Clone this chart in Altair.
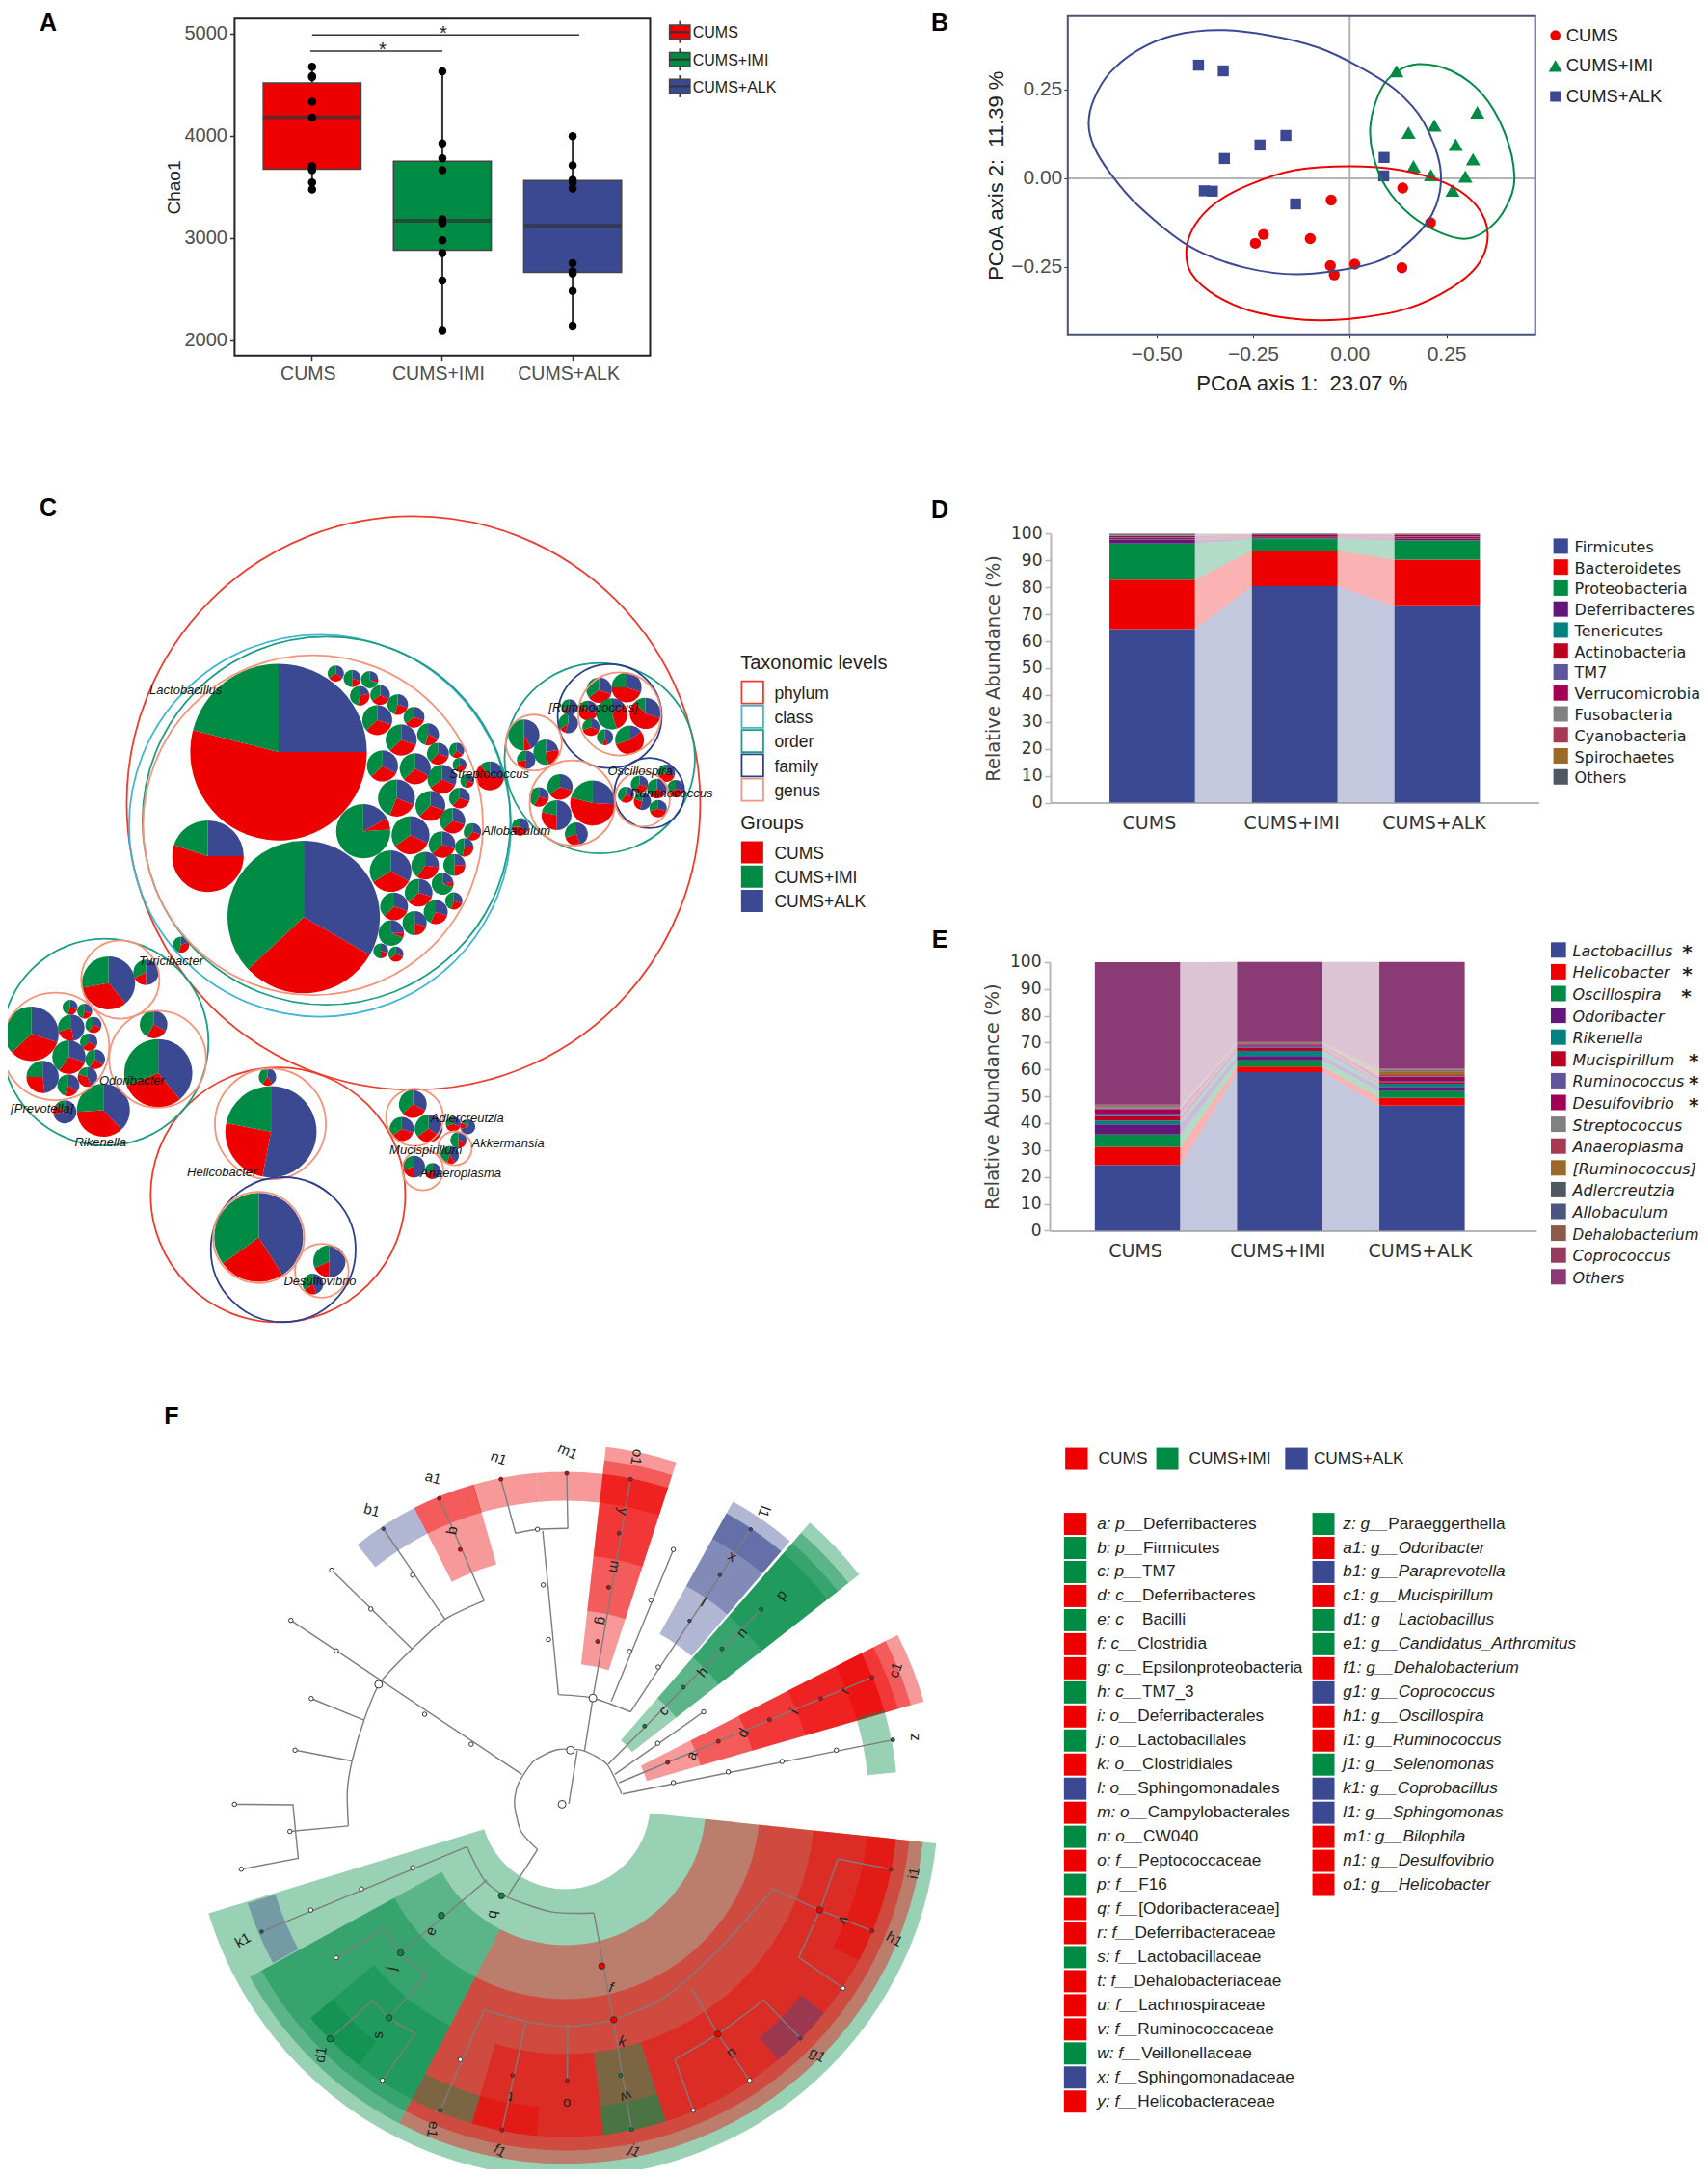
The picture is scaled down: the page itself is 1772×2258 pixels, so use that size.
import math
import altair as alt
import pandas as pd

W, H = 1756, 2242
SANS = "Liberation Sans"
DJ = "DejaVu Sans"
RED, GREEN, BLUE = "#EE0000", "#008B45", "#3B4992"
GROUPS = ["CUMS", "CUMS+IMI", "CUMS+ALK"]
GCOL = [RED, GREEN, BLUE]

# ---------------- panel A values
A_Q1 = [3673, 2881, 2664]
A_MED = [4182, 3167, 3119]
A_Q3 = [4519, 3752, 3563]
A_LOW = [3475, 2097, 2138]
A_HIGH = [4676, 4632, 3997]
A_POINTS = {
    "CUMS": [4676, 4585, 4575, 4333, 4179, 3704, 3679, 3664, 3544, 3475],
    "CUMS+IMI": [4632, 3925, 3780, 3664, 3182, 3160, 3145, 2978, 2852, 2582, 2097],
    "CUMS+ALK": [3997, 3711, 3569, 3544, 3484, 2752, 2673, 2651, 2481, 2138],
}
# ---------------- panel B values
B_CUMS_X = [0.137, -0.048, 0.209, -0.223, -0.244, -0.102, -0.050, 0.013, -0.040, 0.135]
B_CUMS_Y = [-0.027, -0.061, -0.125, -0.158, -0.183, -0.170, -0.246, -0.242, -0.272, -0.252]
B_IMI_X = [0.121, 0.330, 0.219, 0.152, 0.274, 0.319, 0.165, 0.210, 0.299, 0.266]
B_IMI_Y = [0.302, 0.186, 0.149, 0.129, 0.095, 0.054, 0.034, 0.009, 0.005, -0.034]
B_ALK_X = [-0.391, -0.327, -0.165, -0.232, -0.324, 0.089, 0.088, -0.376, -0.355, -0.140]
B_ALK_Y = [0.319, 0.303, 0.121, 0.094, 0.056, 0.059, 0.007, -0.035, -0.036, -0.072]
B_ELL_ALK = [(-0.675, 0.154), (-0.662, 0.222), (-0.619, 0.299), (-0.547, 0.362), (-0.456, 0.403), (-0.338, 0.418),
             (-0.208, 0.403), (-0.077, 0.367), (0.027, 0.313), (0.119, 0.249), (0.191, 0.159),
             (0.234, 0.032), (0.223, -0.077), (0.165, -0.168), (0.067, -0.236), (-0.116, -0.270),
             (-0.273, -0.251), (-0.417, -0.190), (-0.547, -0.077), (-0.619, 0.014), (-0.662, 0.091)]
B_ELL_CUMS = [(0.001, 0.034), (0.132, 0.023), (0.249, -0.014), (0.328, -0.077), (0.357, -0.159),
              (0.328, -0.249), (0.236, -0.326), (0.119, -0.376), (-0.071, -0.400), (-0.234, -0.380),
              (-0.345, -0.331), (-0.410, -0.267), (-0.422, -0.199), (-0.400, -0.131), (-0.345, -0.068),
              (-0.260, -0.018), (-0.142, 0.023)]
B_ELL_IMI = [(0.178, 0.322), (0.263, 0.303), (0.341, 0.240), (0.400, 0.131), (0.426, 0.005),
             (0.406, -0.077), (0.361, -0.140), (0.302, -0.170), (0.236, -0.154), (0.158, -0.104),
             (0.093, -0.023), (0.060, 0.068), (0.054, 0.154), (0.080, 0.249), (0.119, 0.299)]

# ---------------- panel C values: centre x, centre y, radius, then blue / red / green shares
C_PIES = [
    (477, 488, 153, .25, .54, .21), (520, 786, 132, .333, .297, .37), (356, 676, 62, .25, .55, .20),
    (622, 631, 47, .17, .07, .76), (575, 346, 14, .35, .30, .35), (603, 355, 15, .30, .20, .50),
    (633, 357, 15, .25, .06, .69), (616, 386, 17, .22, .30, .48), (651, 385, 17, .32, .33, .35),
    (681, 402, 18, .30, .25, .45), (709, 425, 18, .30, .35, .35), (646, 430, 26, .30, .33, .37),
    (687, 466, 27, .30, .33, .37), (733, 456, 19, .32, .22, .46), (750, 491, 19, .30, .32, .38),
    (782, 485, 13, .35, .25, .40), (787, 511, 12, .30, .30, .40), (655, 513, 27, .33, .30, .37),
    (711, 518, 27, .33, .30, .37), (757, 537, 25, .32, .33, .35), (800, 540, 12, .30, .25, .45),
    (787, 571, 18, .30, .32, .38), (679, 571, 32, .31, .25, .44), (737, 585, 26, .30, .33, .37),
    (775, 612, 22, .30, .33, .37), (703, 638, 33, .32, .33, .35), (809, 632, 15, .30, .30, .40),
    (757, 655, 23, .30, .33, .37), (795, 660, 16, .25, .28, .47), (669, 703, 36, .33, .33, .34),
    (728, 693, 24, .27, .33, .40), (778, 692, 19, .25, .25, .50), (717, 742, 24, .30, .33, .37),
    (758, 726, 19, .22, .08, .70), (777, 757, 15, .30, .25, .45), (675, 767, 24, .30, .33, .37),
    (746, 777, 21, .30, .27, .43), (710, 797, 21, .30, .20, .50), (670, 815, 22, .25, .06, .69),
    (652, 847, 13, .30, .20, .50), (678, 853, 13, .30, .35, .35),
    (839, 531, 25, .28, .60, .12), (891, 623, 15, .35, .40, .25), (310, 836, 14, .20, .35, .45),
    (186, 905, 46, .39, .33, .28), (250, 886, 22, .50, .18, .32), (54, 997, 47, .30, .33, .37),
    (120, 949, 13, .30, .25, .45), (145, 956, 13, .30, .25, .45), (122, 986, 23, .47, .23, .30),
    (160, 981, 14, .30, .30, .40), (152, 1012, 15, .33, .30, .37), (118, 1039, 29, .30, .30, .40),
    (163, 1043, 17, .35, .25, .40), (73, 1075, 28, .48, .27, .25), (117, 1090, 19, .35, .20, .45),
    (150, 1075, 17, .45, .35, .20), (263, 980, 24, .33, .25, .42), (271, 1068, 59, .39, .30, .31),
    (177, 1135, 46, .38, .36, .26), (111, 1138, 20, .72, .13, .15),
    (1026, 376, 22, .30, .35, .35), (1073, 371, 26, .30, .45, .25), (1105, 418, 27, .30, .58, .12),
    (1048, 419, 27, .15, .30, .55), (1007, 413, 17, .30, .55, .15), (1012, 443, 15, .30, .40, .30),
    (1036, 461, 14, .45, .10, .45), (1078, 466, 25, .15, .55, .30), (975, 407, 14, .60, .10, .30),
    (973, 436, 17, .55, .10, .35), (897, 457, 27, .42, .08, .50), (935, 488, 22, .22, .25, .53),
    (901, 502, 16, .50, .22, .28), (959, 551, 22, .30, .35, .35), (1015, 580, 39, .26, .53, .21),
    (953, 602, 26, .50, .28, .22), (923, 569, 17, .28, .30, .42), (987, 636, 20, .45, .25, .30),
    (1141, 526, 15, .30, .40, .30), (1095, 546, 15, .30, .30, .40), (1125, 554, 17, .33, .30, .37),
    (1157, 554, 15, .30, .35, .35), (1072, 565, 14, .30, .30, .40), (1100, 577, 15, .55, .25, .20),
    (1127, 590, 15, .30, .40, .30),
    (464, 1174, 79, .53, .25, .22), (458, 1075, 15, .40, .20, .40), (443, 1365, 77, .41, .24, .35),
    (564, 1408, 28, .50, .18, .32), (536, 1449, 18, .45, .20, .35),
    (707, 1124, 24, .33, .30, .37), (688, 1169, 21, .30, .35, .35), (734, 1168, 24, .35, .30, .35),
    (785, 1189, 14, .30, .20, .50), (770, 1216, 16, .40, .15, .45), (709, 1237, 19, .50, .20, .30),
    (741, 1245, 14, .50, .20, .30), (776, 1160, 13, .30, .40, .30), (801, 1165, 13, .70, .15, .15),
]
LEVELS = ["phylum", "class", "order", "family", "genus"]
LEVEL_COL = ["#EF3B2C", "#41B6D0", "#1B9E85", "#2B3F8F", "#F4947A"]
C_RINGS = [
    ("phylum", 708, 580, 491), ("phylum", 476, 1288, 218),
    ("class", 548, 621, 327), ("order", 559, 612, 315), ("genus", 536, 620, 291),
    ("order", 1027, 499, 163), ("family", 1044, 423, 89), ("genus", 1061, 419, 71),
    ("genus", 914, 471, 48), ("genus", 980, 580, 73), ("family", 1112, 562, 60), ("genus", 1100, 573, 47),
    ("order", 180, 1012, 177), ("genus", 206, 899, 67), ("genus", 95, 1020, 92), ("genus", 270, 1043, 83),
    ("genus", 463, 1160, 95), ("family", 485, 1387, 124), ("genus", 443, 1365, 78), ("genus", 551, 1425, 46),
    ("genus", 710, 1148, 49), ("genus", 779, 1204, 29), ("genus", 724, 1243, 35),
]
C_LABELS = [("Lactobacillus", 318, 376), ("[Ruminococcus]", 1016, 408), ("Streptococcus", 838, 528),
            ("Oscillospira", 1096, 522), ("Ruminococcus", 1150, 563), ("Allobaculum", 884, 631),
            ("Turicibacter", 293, 866), ("Odoribacter", 226, 1082), ("[Prevotella]", 72, 1133),
            ("Rikenella", 172, 1194), ("Helicobacter", 380, 1247), ("Desulfovibrio", 548, 1444),
            ("Adlercreutzia", 800, 1149), ("Akkermansia", 870, 1195), ("Mucispirillum", 729, 1207),
            ("Anaeroplasma", 789, 1250)]

# ---------------- panels D and E values (percent, bottom to top)
D_SERIES = ["Firmicutes", "Bacteroidetes", "Proteobacteria", "Deferribacteres", "Tenericutes", "Actinobacteria",
            "TM7", "Verrucomicrobia", "Fusobacteria", "Cyanobacteria", "Spirochaetes", "Others"]
D_COL = ["#3B4992", "#EE0000", "#008B45", "#631879", "#008280", "#BB0021", "#5F559B", "#A20056", "#808180",
         "#A73A52", "#9B6A2B", "#4F5761"]
D_CUMS = [64.5, 18.4, 13.4, 1.4, .3, .5, .2, .5, .1, .1, .1, .5]
D_IMI = [80.4, 13.2, 4.3, .2, .3, .6, .1, .3, .05, .05, .05, .45]
D_ALK = [73.0, 17.3, 7.2, .5, .2, .7, .2, .4, .05, .05, .05, .35]
E_SERIES = ["Lactobacillus", "Helicobacter", "Oscillospira", "Odoribacter", "Rikenella", "Mucispirillum",
            "Ruminococcus", "Desulfovibrio", "Streptococcus", "Anaeroplasma", "[Ruminococcus]", "Adlercreutzia",
            "Allobaculum", "Dehalobacterium", "Coprococcus", "Others"]
E_COL = ["#3B4992", "#EE0000", "#008B45", "#631879", "#008280", "#BB0021", "#5F559B", "#A20056", "#808180",
         "#A73A52", "#9B6A2B", "#4F5761", "#4C5480", "#8A5A4C", "#983A5C", "#8A3A75"]
E_STAR = {"Lactobacillus": 1527, "Helicobacter": 1527, "Oscillospira": 1525, "Mucispirillum": 1540,
          "Ruminococcus": 1540, "Desulfovibrio": 1540}
E_CUMS = [24.5, 6.6, 4.7, 3.7, 1.5, 1.6, 1.0, 1.7, .3, .2, .3, .2, .2, .3, .1, 53.0]
E_IMI = [59.0, 2.1, 2.3, 1.6, 1.9, 1.2, .8, .4, .1, .1, .4, .1, .05, .1, .05, 29.8]
E_ALK = [46.5, 2.9, 2.5, 1.6, 1.2, .6, .5, 1.4, .4, .3, 1.4, .3, .2, .2, .3, 39.7]

# ---------------- panel F values: clade, group, inner and outer ring, start and end bearing in degrees
F_WEDGES = [
    ("b", "G", 88, 387, 96, 253), ("f", "R", 146, 373, 96, 207.5), ("k", "R", 202, 359, 96, 207.5),
    ("v", "R", 259, 345, 96, 128.9), ("u", "R", 259, 345, 128.9, 162.4), ("w", "G", 259, 345, 162.4, 173.4),
    ("o", "R", 259, 345, 173.4, 184.9), ("t", "R", 259, 345, 184.9, 196.3), ("e1", "G", 315, 345, 196.3, 207.5),
    ("f1", "R", 315, 345, 184.9, 196.3), ("j1", "G", 315, 345, 162.4, 173.4), ("g1", "B", 315, 345, 128.9, 140.2),
    ("h1", "R", 315, 345, 107, 118), ("i1", "R", 315, 345, 96, 107), ("e", "G", 146, 373, 207.5, 241.3),
    ("j", "G", 202, 359, 207.5, 241.3), ("s", "G", 259, 345, 207.5, 230), ("d1", "G", 315, 345, 218.5, 230),
    ("k1", "B", 315, 345, 241.5, 252.7),
    ("a", "R", 88, 387, 63, 74), ("d", "R", 146, 373, 63, 74), ("i", "R", 202, 359, 63, 74),
    ("r", "R", 259, 345, 63, 74), ("c1", "R", 315, 345, 63, 74), ("z", "G", 315, 345, 73.5, 84.5),
    ("c", "G", 88, 387, 41, 52), ("h", "G", 146, 373, 41, 52), ("n", "G", 202, 359, 41, 52), ("p", "G", 259, 345, 41, 52),
    ("l", "B", 202, 359, 29, 40.5), ("x", "B", 259, 345, 29, 40.5), ("l1", "B", 315, 345, 29, 40.5),
    ("g", "R", 146, 373, 6.5, 18), ("m", "R", 202, 359, 6.5, 18), ("y", "R", 259, 345, 6.5, 18), ("o1", "R", 315, 345, 6.5, 18),
    ("m1", "R", 315, 345, 355, 366.5), ("n1", "R", 315, 345, 343.9, 355), ("q", "R", 259, 345, 333, 344),
    ("a1", "R", 315, 345, 333, 344), ("b1", "B", 315, 345, 321.3, 333),
]
F_ARCS = [
    [(913, 805), (885, 745), (840, 717), (790, 715), (745, 738), (715, 785), (708, 825), (720, 880), (752, 918)],
    [(617, 912), (650, 980), (695, 1015), (780, 1045), (860, 1047)],
    [(650, 1244), (730, 1267), (810, 1277), (897, 1264), (1000, 1215), (1100, 1120), (1203, 998)],
    [(1015, 1345), (1097, 1293), (1185, 1224)], [(1327, 937), (1292, 1041), (1252, 1137)],
    [(460, 1077), (490, 1128), (540, 1173)], [(437, 1224), (468, 1260), (518, 1292)],
    [(792, 603), (858, 610), (930, 638)], [(710, 275), (752, 267), (810, 265)],
    [(390, 870), (388, 800), (397, 738), (420, 655), (450, 580), (512, 510), (575, 450), (650, 412)],
]
F_BRANCHES = [
    [(752, 918), (695, 1012)], [(860, 1047), (897, 1264)], [(655, 980), (490, 1128)], [(617, 912), (224, 1085)],
    [(650, 1244), (566, 1448)], [(730, 1267), (684, 1488)], [(810, 1277), (809, 1388)], [(897, 1264), (932, 1487)],
    [(1047, 1200), (1097, 1293)], [(1015, 1345), (1050, 1448)], [(1185, 1224), (1255, 1302)], [(1097, 1293), (1158, 1387)],
    [(1203, 998), (1292, 1041), (1392, 1083)], [(1327, 937), (1428, 958)], [(1252, 1137), (1337, 1200)],
    [(460, 1077), (367, 1138)], [(540, 1173), (468, 1260)], [(437, 1224), (355, 1303)], [(518, 1292), (455, 1387)],
    [(812, 825), (828, 717)], [(842, 717), (858, 610)], [(792, 603), (762, 270)], [(710, 275), (682, 165)],
    [(810, 265), (808, 153)], [(858, 610), (930, 165)], [(893, 617), (1012, 308)], [(930, 638), (1160, 267)],
    [(887, 745), (1180, 430)], [(900, 765), (1070, 638)], [(908, 782), (1392, 568)], [(915, 805), (1432, 695)],
    [(722, 765), (280, 452)], [(650, 412), (564, 204)], [(575, 450), (457, 266)], [(512, 510), (358, 350)],
    [(420, 655), (319, 611)], [(397, 738), (288, 716)], [(390, 870), (278, 881)],
    [(172, 826), (284, 827), (294, 936), (185, 958)],
]
F_NODES_RED = [(1001, 741), (1098, 698), (1196, 654), (1294, 611), (1392, 568), (867, 495), (888, 385), (908, 275), (930, 165),
               (604, 308), (564, 204), (682, 165), (808, 153), (704, 1377), (684, 1488), (809, 1388), (1392, 1083), (1428, 958)]
F_NODES_RED_BIG = [(875, 1155), (898, 1264), (1097, 1293), (1292, 1041)]
F_NODES_GREEN = [(957, 667), (1031, 588), (1105, 510), (1180, 430), (911, 1377), (932, 1487), (566, 1448), (1432, 695)]
F_NODES_GREEN_BIG = [(683, 1012), (568, 1052), (490, 1128), (468, 1260), (355, 1303)]
F_NODES_BLUE = [(1043, 453), (1101, 360), (1160, 267), (457, 266), (224, 1085), (1255, 1302)]
F_NODES_OPEN = [(625, 704), (536, 643), (367, 514), (280, 452), (358, 350), (433, 429), (319, 611), (288, 716), (278, 881),
                (172, 826), (185, 958), (513, 360), (763, 380), (773, 491), (752, 267), (928, 515), (969, 411), (1012, 308),
                (983, 547), (982, 702), (1070, 638), (1012, 782), (1117, 760), (1220, 739), (1324, 716), (513, 955), (415, 998),
                (318, 1041), (367, 1138), (455, 1387), (604, 1345), (1050, 1448), (1158, 1387), (1337, 1200)]
F_NODES_OPEN_BIG = [(799, 826), (815, 716), (858, 610), (448, 582)]
F_LABELS = [("a", 1047, 727, 290), ("d", 1145, 681, 300), ("i", 1243, 637, 300), ("r", 1340, 595, 300), ("c1", 1437, 553, 290),
            ("z", 1475, 690, 90), ("p", 1218, 400, 310), ("n", 1143, 477, 310), ("h", 1068, 557, 310), ("c", 993, 636, 310),
            ("l", 1070, 415, 30), ("x", 1125, 322, 30), ("l1", 1186, 231, 110), ("y", 916, 231, 100), ("m", 900, 343, 100),
            ("g", 875, 453, 100), ("o1", 942, 120, 100), ("q", 592, 270, 100), ("a1", 552, 162, 15), ("b1", 435, 228, 15),
            ("n1", 678, 122, 20), ("m1", 810, 108, 25), ("k1", 188, 1102, 330), ("d1", 337, 1335, 280), ("e", 548, 1084, 290),
            ("j", 472, 1160, 280), ("s", 447, 1295, 270), ("b", 668, 1050, 100), ("f", 893, 1198, 20), ("k", 915, 1308, 20),
            ("o", 808, 1435, 180), ("t", 700, 1422, 190), ("w", 921, 1420, 160), ("e1", 552, 1487, 100), ("f1", 680, 1530, 30),
            ("j1", 938, 1530, 30), ("u", 1125, 1333, 140), ("v", 1338, 1062, 120), ("h1", 1435, 1100, 30), ("i1", 1472, 966, 280),
            ("g1", 1288, 1335, 30)]
F_KEY_1 = [("a: p__", "Deferribacteres", "R"), ("b: p__", "Firmicutes", "G"), ("c: p__", "TM7", "G"),
           ("d: c__", "Deferribacteres", "R"), ("e: c__", "Bacilli", "G"), ("f: c__", "Clostridia", "R"),
           ("g: c__", "Epsilonproteobacteria", "R"), ("h: c__", "TM7_3", "G"), ("i: o__", "Deferribacterales", "R"),
           ("j: o__", "Lactobacillales", "G"), ("k: o__", "Clostridiales", "R"), ("l: o__", "Sphingomonadales", "B"),
           ("m: o__", "Campylobacterales", "R"), ("n: o__", "CW040", "G"), ("o: f__", "Peptococcaceae", "R"),
           ("p: f__", "F16", "G"), ("q: f__", "[Odoribacteraceae]", "R"), ("r: f__", "Deferribacteraceae", "R"),
           ("s: f__", "Lactobacillaceae", "G"), ("t: f__", "Dehalobacteriaceae", "R"), ("u: f__", "Lachnospiraceae", "R"),
           ("v: f__", "Ruminococcaceae", "R"), ("w: f__", "Veillonellaceae", "G"), ("x: f__", "Sphingomonadaceae", "B"),
           ("y: f__", "Helicobacteraceae", "R")]
F_KEY_2 = [("z: g__Paraeggerthella", "G"), ("a1: g__Odoribacter", "R"), ("b1: g__Paraprevotella", "B"),
           ("c1: g__Mucispirillum", "R"), ("d1: g__Lactobacillus", "G"), ("e1: g__Candidatus_Arthromitus", "G"),
           ("f1: g__Dehalobacterium", "R"), ("g1: g__Coprococcus", "B"), ("h1: g__Oscillospira", "R"),
           ("i1: g__Ruminococcus", "R"), ("j1: g__Selenomonas", "G"), ("k1: g__Coprobacillus", "B"),
           ("l1: g__Sphingomonas", "B"), ("m1: g__Bilophila", "R"), ("n1: g__Desulfovibrio", "R"), ("o1: g__Helicobacter", "R")]
KEYCOL = {"R": RED, "G": GREEN, "B": BLUE}
LETTER_W = dict(zip("abcdefghijklmnopqrstuvwxyz:_ ",
                    [556, 556, 500, 556, 556, 278, 556, 556, 222, 222, 500, 222, 833, 556, 556, 556, 556, 333, 500, 278,
                     556, 500, 722, 500, 500, 500, 278, 556, 278]))


def sc(dom, lo, hi, **kw):
    """Linear scale from data units onto a stretch of the 1772x2258 picture."""
    return alt.Scale(domain=dom, range=[lo - 8, hi - 8], nice=False, zero=False, **kw)


def ax_bottom(y, **kw):
    return alt.Axis(orient="bottom", offset=(y - 8) - H, grid=False, **kw)


def ax_left(x, **kw):
    return alt.Axis(orient="left", offset=-(x - 8), grid=False, **kw)


def xq(f, s, axis=None):
    return alt.X(f + ":Q", scale=s, axis=axis, title=None)


def yq(f, s, axis=None):
    return alt.Y(f + ":Q", scale=s, axis=axis, title=None)


def x2(f):
    return alt.X2(f)


def y2(f):
    return alt.Y2(f)


def label_layer(rows, sx, sy, size, font=SANS, color="#222", align="left", **mk):
    df = pd.DataFrame(rows, columns=["t", "x", "y"])
    return alt.Chart(df).mark_text(align=align, baseline="middle", font=font, fontSize=size, color=color, **mk).encode(
        x=xq("x", sx), y=yq("y", sy), text=alt.Text("t:N"))


def rects(rows, sx, sy, **mk):
    df = pd.DataFrame(rows, columns=["x", "x1", "y", "y1", "c"])
    return alt.Chart(df).mark_rect(**mk).encode(
        x=xq("x", sx), x2=x2("x1"), y=yq("y", sy), y2=y2("y1"),
        fill=alt.Fill("c:N", scale=None))


L = []
PX = sc([0, 1772], 0, 1772)
PY = sc([0, 2258], 0, 2258)

# panel letters
L.append(label_layer([("A", 50, 24), ("B", 975, 24), ("C", 50, 527), ("D", 975, 529), ("E", 975, 975), ("F", 178, 1469)],
                     PX, PY, 25, color="#000", align="center", fontWeight="bold"))

# ======================= A
AX = alt.Scale(type="band", domain=GROUPS, range=[243.4 - 8, 674.5 - 8], paddingInner=0.25, paddingOuter=0.22)
AY = sc([1849, 5148], 368.7, 19.3)
A_COLOR = alt.Color("g:N", scale=alt.Scale(domain=GROUPS, range=GCOL), legend=None)
a_df = pd.DataFrame({"g": GROUPS, "q1": A_Q1, "q3": A_Q3, "med": A_MED, "lo": A_LOW, "hi": A_HIGH})
a_pts = pd.DataFrame([{"g": g, "v": v} for g, vs in A_POINTS.items() for v in vs])
A_XAX = ax_bottom(368.7, labelFont=SANS, labelFontSize=19.5, labelColor="#4d4d4d", labelAngle=0, domain=False,
                  tickColor="#333", tickSize=5, tickWidth=1.5, labelPadding=5, labelOffset=-4, title=None)
A_YAX = ax_left(243.4, labelFont=SANS, labelFontSize=20, labelColor="#4d4d4d", domain=False, tickColor="#333",
                tickSize=5, tickWidth=1.5, values=[2000, 3000, 4000, 5000], labelPadding=3, format="d",
                title="Chao1", titleFont=SANS, titleFontSize=19, titleFontWeight="normal", titleColor="#222", titlePadding=0)
AXN = alt.X("g:N", scale=AX, axis=None, title=None)
L.append(alt.Chart(a_df).mark_rule(color="#333", strokeWidth=2).encode(x=AXN, y=yq("lo", AY), y2=y2("hi")))
L.append(alt.Chart(a_df).mark_bar(stroke="#444", strokeWidth=1.5).encode(
    x=alt.X("g:N", scale=AX, axis=A_XAX, title=None), y=alt.Y("q1:Q", scale=AY, axis=A_YAX), y2=y2("q3"), color=A_COLOR))
L.append(alt.Chart(a_df).mark_tick(color="#333", thickness=4, size=101, orient="horizontal").encode(x=AXN, y=yq("med", AY)))
L.append(alt.Chart(a_pts).mark_circle(color="#000", size=72, opacity=1).encode(x=AXN, y=yq("v", AY)))
FR01 = alt.Scale(domain=[0, 1], nice=False, zero=False, range=[243.4 - 8, 674.5 - 8])
FR01Y = alt.Scale(domain=[0, 1], nice=False, zero=False, range=[368.7 - 8, 19.3 - 8])
frame = pd.DataFrame({"a": [0], "b": [1]})
L.append(alt.Chart(frame).mark_rect(fillOpacity=0, stroke="#222", strokeWidth=2).encode(
    x=xq("a", FR01), x2=x2("b"), y=yq("a", FR01Y), y2=y2("b")))
sig = pd.DataFrame({"x": [323.8, 322], "x1": [601, 459], "y": [36.3, 53]})
L.append(alt.Chart(sig).mark_rule(color="#333", strokeWidth=1.5).encode(x=xq("x", PX), x2=x2("x1"), y=yq("y", PY)))
L.append(label_layer([("*", 460, 35), ("*", 397, 52)], PX, PY, 20, color="#222", align="center"))
# A key
leg_y = [33.3, 61.7, 89.5]
L.append(alt.Chart(pd.DataFrame({"x": [705.2] * 3, "y": [y - 11.5 for y in leg_y], "y1": [y + 11.5 for y in leg_y]})).mark_rule(
    color="#333", strokeWidth=1.5).encode(x=xq("x", PX), y=yq("y", PY), y2=y2("y1")))
L.append(rects([(694.6, 715.9, y - 7.2, y + 7.2, c) for y, c in zip(leg_y, GCOL)], PX, PY, stroke="#444", strokeWidth=1.5))
L.append(alt.Chart(pd.DataFrame({"x": [694.6] * 3, "x1": [715.9] * 3, "y": leg_y})).mark_rule(color="#333", strokeWidth=2).encode(
    x=xq("x", PX), x2=x2("x1"), y=yq("y", PY)))
L.append(label_layer([(g, 718.7, y + 1) for g, y in zip(GROUPS, leg_y)], PX, PY, 16))

# ======================= B
BX = sc([-0.729, 0.4796], 1107.8, 1592.7)
BY = sc([-0.4394, 0.4573], 346.7, 16.7)
SHAPES = alt.Scale(domain=GROUPS, range=["circle", "triangle-up", "square"])
B_COLOR = alt.Color("g:N", scale=alt.Scale(domain=GROUPS, range=GCOL), legend=None)
ell_rows = []
for g, pts in zip(GROUPS, [B_ELL_CUMS, B_ELL_IMI, B_ELL_ALK]):
    ell_rows += [{"g": g, "i": i, "x": p[0], "y": p[1]} for i, p in enumerate(pts)]
pt_rows = []
for g, xs, ys, sz in zip(GROUPS, [B_CUMS_X, B_IMI_X, B_ALK_X], [B_CUMS_Y, B_IMI_Y, B_ALK_Y], [130, 220, 130]):
    pt_rows += [{"g": g, "x": a, "y": b, "s": sz} for a, b in zip(xs, ys)]
B_XAX = ax_bottom(346.7, labelFont=SANS, labelFontSize=21, labelColor="#4d4d4d", domain=False, tickColor="#333", tickSize=4,
                  values=[-0.5, -0.25, 0, 0.25], format=".2f", labelPadding=6,
                  title="PCoA axis 1:\u00a0\u00a023.07 %", titleFont=SANS, titleFontSize=22, titleFontWeight="normal",
                  titleColor="#222", titlePadding=10)
B_YAX = ax_left(1107.8, labelFont=SANS, labelFontSize=21, labelColor="#4d4d4d", domain=False, tickColor="#333", tickSize=4,
                values=[-0.25, 0, 0.25], format=".2f", labelPadding=2,
                title="PCoA axis 2:\u00a0\u00a011.39 %", titleFont=SANS, titleFontSize=22, titleFontWeight="normal",
                titleColor="#222", titlePadding=3)
L.append(alt.Chart(pd.DataFrame({"x": [0.0], "lo": [-0.4394], "hi": [0.4573]})).mark_rule(color="#b3b3b3", strokeWidth=2).encode(
    x=alt.X("x:Q", scale=BX, axis=B_XAX), y=alt.Y("lo:Q", scale=BY, axis=B_YAX), y2=y2("hi")))
L.append(alt.Chart(pd.DataFrame({"y": [0.0], "lo": [-0.729], "hi": [0.4796]})).mark_rule(color="#b3b3b3", strokeWidth=2).encode(
    y=yq("y", BY), x=xq("lo", BX), x2=x2("hi")))
L.append(alt.Chart(pd.DataFrame(pt_rows)).mark_point(filled=True, opacity=1).encode(
    x=xq("x", BX), y=yq("y", BY), color=B_COLOR, shape=alt.Shape("g:N", scale=SHAPES, legend=None),
    size=alt.Size("s:Q", scale=None)))
L.append(alt.Chart(pd.DataFrame(ell_rows)).mark_line(interpolate="cardinal-closed", strokeWidth=2).encode(
    x=xq("x", BX), y=yq("y", BY), color=B_COLOR, order=alt.Order("i:Q")))
BFX = alt.Scale(domain=[0, 1], nice=False, zero=False, range=[1107.8 - 8, 1592.7 - 8])
BFY = alt.Scale(domain=[0, 1], nice=False, zero=False, range=[346.7 - 8, 16.7 - 8])
L.append(alt.Chart(frame).mark_rect(fillOpacity=0, stroke="#4a5078", strokeWidth=2).encode(
    x=xq("a", BFX), x2=x2("b"), y=yq("a", BFY), y2=y2("b")))
blg = pd.DataFrame({"g": GROUPS, "x": [1613.7] * 3, "y": [36.7, 68.3, 100], "s": [115, 200, 121]})
L.append(alt.Chart(blg).mark_point(filled=True, opacity=1).encode(
    x=xq("x", PX), y=yq("y", PY), color=B_COLOR, shape=alt.Shape("g:N", scale=SHAPES, legend=None),
    size=alt.Size("s:Q", scale=None)))
L.append(label_layer([(g, 1624.7, y) for g, y in zip(GROUPS, [36.7, 68.3, 100])], PX, PY, 18.4))

# ======================= C  (positions read on a 0-1568 grid laid over the panel)
CX = sc([0, 1568], 0, 950)
CY = sc([0, 1568], 500, 1400)
pie_rows = []
for n, (cx, cy, r, b, rd, g) in enumerate(C_PIES):
    tot = b + rd + g
    a = 0.0
    for key, share in (("CUMS+ALK", b), ("CUMS", rd), ("CUMS+IMI", g)):
        t = 2 * math.pi * share / tot
        pie_rows.append({"x": cx, "y": cy, "r": r / 1.67, "t0": a, "t1": a + t, "g": key})
        a += t
L.append(alt.Chart(pd.DataFrame(pie_rows)).mark_arc().encode(
    x=xq("x", CX), y=yq("y", CY), theta=alt.Theta("t0:Q", scale=None, stack=None), theta2=alt.Theta2("t1"),
    radius=alt.Radius("r:Q", scale=None),
    color=alt.Color("g:N", scale=alt.Scale(domain=GROUPS, range=GCOL), legend=None)))
ring_df = pd.DataFrame([{"lev": a, "x": b, "y": c, "s": (2 * d / 1.6505) ** 2} for a, b, c, d in C_RINGS])
L.append(alt.Chart(ring_df).mark_point(shape="circle", filled=False, strokeWidth=1.8, opacity=1).encode(
    x=xq("x", CX), y=yq("y", CY), size=alt.Size("s:Q", scale=None),
    stroke=alt.Stroke("lev:N", scale=alt.Scale(domain=LEVELS, range=LEVEL_COL), legend=None)))
L.append(label_layer(C_LABELS, CX, CY, 13, align="center", fontStyle="italic", color="#111"))
L.append(label_layer([("Taxonomic levels", 1268, 327), ("Groups", 1268, 616)], CX, CY, 20, color="#222"))
lev_y = [380, 424, 468, 512, 556]
lev_df = pd.DataFrame({"x": [1270] * 5, "x1": [1307] * 5, "y": [v - 20 for v in lev_y], "y1": [v + 20 for v in lev_y], "lev": LEVELS})
L.append(alt.Chart(lev_df).mark_rect(fill="white", strokeWidth=1.8).encode(
    x=xq("x", CX), x2=x2("x1"), y=yq("y", CY), y2=y2("y1"),
    stroke=alt.Stroke("lev:N", scale=alt.Scale(domain=LEVELS, range=LEVEL_COL), legend=None)))
L.append(label_layer([(t, 1326, y + 3) for t, y in zip(LEVELS, lev_y)], CX, CY, 17.5))
grp_y = [669, 713, 757]
L.append(rects([(1269, 1307, y - 20, y + 20, c) for y, c in zip(grp_y, GCOL)], CX, CY))
L.append(label_layer([(t, 1326, y + 3) for t, y in zip(GROUPS, grp_y)], CX, CY, 17.5))


# ======================= D / E
def stacked(series, cols, values, band_scale, y_scale, pos_scale, left, x_axis, y_axis, bar_w=0.6):
    bars, conn = [], []
    for i, s in enumerate(series):
        base = [sum(v[:i]) for v in values]
        top = [sum(v[:i + 1]) for v in values]
        for g, lo, hi in zip(GROUPS, base, top):
            bars.append({"g": g, "s": s, "lo": lo, "hi": hi})
        for pos, k in ((left + bar_w, 0), (left + 1, 1), (left + 1 + bar_w, 1), (left + 2, 2)):
            conn.append({"s": s, "p": pos, "lo": base[k], "hi": top[k]})
    color = alt.Color("s:N", scale=alt.Scale(domain=series, range=cols), legend=None)
    out = [alt.Chart(pd.DataFrame(conn)).mark_area(opacity=0.3, orient="vertical").encode(
        x=xq("p", pos_scale), y=yq("lo", y_scale), y2=y2("hi"), color=color)]
    out.append(alt.Chart(pd.DataFrame(bars)).mark_bar().encode(
        x=alt.X("g:N", scale=band_scale, axis=x_axis, title=None), y=alt.Y("lo:Q", scale=y_scale, axis=y_axis), y2=y2("hi"),
        color=color))
    return out


def da_axes(x0, y0, label_shift):
    xa = ax_bottom(y0, labelFont=DJ, labelFontSize=19, labelColor="#333", labelAngle=0, domainColor="#b5b5b5", domainWidth=2,
                   ticks=False, labelPadding=12, labelOffset=label_shift, title=None)
    ya = ax_left(x0, labelFont=DJ, labelFontSize=17, labelColor="#333", domainColor="#b5b5b5", domainWidth=2,
                 tickColor="#b5b5b5", tickSize=6, tickWidth=1.5, values=list(range(0, 101, 10)), labelPadding=3,
                 title="Relative Abundance (%)", titleFont=DJ, titleFontSize=19.5, titleFontWeight="normal",
                 titleColor="#444", titlePadding=8)
    return xa, ya


DX = alt.Scale(type="band", domain=GROUPS, range=[1090 - 8, 1596.4 - 8], paddingInner=0.4, paddingOuter=0.413)
DY = sc([0, 100], 832.5, 553.4)
DP = sc([0, 3.426], 1090, 1596.4)
xa, ya = da_axes(1090, 832.5, -3)
L += stacked(D_SERIES, D_COL, [D_CUMS, D_IMI, D_ALK], DX, DY, DP, 0.413, xa, ya)
EX = alt.Scale(type="band", domain=GROUPS, range=[1089 - 8, 1593.8 - 8], paddingInner=0.4, paddingOuter=0.41, align=0.387)
EY = sc([0, 100], 1276.4, 997.8)
EP = sc([0, 3.42], 1089, 1593.8)
xa, ya = da_axes(1089, 1276.4, -2)
L += stacked(E_SERIES, E_COL, [E_CUMS, E_IMI, E_ALK], EX, EY, EP, 0.319, xa, ya)
d_rows = [566.4 + 21.76 * i for i in range(12)]
L.append(rects([(1611.6, 1626.8, y - 8, y + 8, c) for y, c in zip(d_rows, D_COL)], PX, PY))
L.append(label_layer(list(zip(D_SERIES, [1633.6] * 12, [y + 1.5 for y in d_rows])), PX, PY, 16, font=DJ, color="#222"))
e_rows = [985.3 + 22.6 * i for i in range(16)]
L.append(rects([(1609, 1624.7, y - 8, y + 8, c) for y, c in zip(e_rows, E_COL)], PX, PY))
long_name = "Dehalobacterium"
L.append(label_layer([(s, 1631.5, y + 1.5) for s, y in zip(E_SERIES, e_rows) if s != long_name], PX, PY, 16, font=DJ,
                     color="#222", fontStyle="italic"))
L.append(label_layer([(long_name, 1631.5, e_rows[E_SERIES.index(long_name)] + 1.5)], PX, PY, 15.2, font=DJ, color="#222",
                     fontStyle="italic"))
L.append(label_layer([("*", 950 + E_STAR[s] / 1.9075, e_rows[E_SERIES.index(s)] + 3) for s in E_STAR], PX, PY, 20, align="center",
                     font=DJ, color="#222", fontWeight="bold"))

# ======================= F
FX = sc([0, 1568], 150, 1000)
FY = sc([0, 1568], 1450, 2250)
wedge_df = pd.DataFrame([{"c": c, "g": g, "x": 805, "y": 826, "r0": r0, "r1": r1, "t0": math.radians(t0), "t1": math.radians(t1)}
                         for c, g, r0, r1, t0, t1 in F_WEDGES])
L.append(alt.Chart(wedge_df).mark_arc(fillOpacity=0.4).encode(
    x=xq("x", FX), y=yq("y", FY), theta=alt.Theta("t0:Q", scale=None, stack=None), theta2=alt.Theta2("t1"),
    radius=alt.Radius("r1:Q", scale=None), radius2=alt.Radius2("r0"),
    fill=alt.Fill("g:N", scale=alt.Scale(domain=["R", "G", "B"], range=GCOL), legend=None)))


def polylines(segs):
    return pd.DataFrame([{"s": k, "i": i, "x": p[0], "y": p[1]} for k, seg in enumerate(segs) for i, p in enumerate(seg)])


L.append(alt.Chart(polylines(F_BRANCHES)).mark_line(color="#7d7d7d", strokeWidth=1.4).encode(
    x=xq("x", FX), y=yq("y", FY), detail="s:N", order=alt.Order("i:Q")))
L.append(alt.Chart(polylines(F_ARCS)).mark_line(color="#7d7d7d", strokeWidth=1.4, interpolate="cardinal", tension=0.3).encode(
    x=xq("x", FX), y=yq("y", FY), detail="s:N", order=alt.Order("i:Q")))
node_rows = []
for pts, col, d in ((F_NODES_OPEN, "#ffffff", 4.5), (F_NODES_OPEN_BIG, "#ffffff", 8), (F_NODES_RED, RED, 4),
                    (F_NODES_RED_BIG, RED, 6.5), (F_NODES_GREEN, GREEN, 4), (F_NODES_GREEN_BIG, GREEN, 6.5),
                    (F_NODES_BLUE, BLUE, 3.5)):
    node_rows += [{"x": p[0], "y": p[1], "c": col, "s": d * d} for p in pts]
L.append(alt.Chart(pd.DataFrame(node_rows)).mark_circle(stroke="#333", strokeWidth=1, opacity=1).encode(
    x=xq("x", FX), y=yq("y", FY), fill=alt.Fill("c:N", scale=None), size=alt.Size("s:Q", scale=None)))
flab = pd.DataFrame(F_LABELS, columns=["t", "x", "y", "a"])
L.append(alt.Chart(flab).mark_text(font=SANS, fontSize=15, color="#222", align="center", baseline="middle").encode(
    x=xq("x", FX), y=yq("y", FY), text=alt.Text("t:N"), angle=alt.Angle("a:Q", scale=None)))

# F key, read on a 0-1568 grid laid over the right-hand block
KX = sc([0, 1568], 1080, 1772)
KY = sc([0, 1568], 1480, 2200)
L.append(rects([(57, 110, 47, 97, RED), (271, 323, 47, 97, GREEN), (574, 627, 47, 97, BLUE)], KX, KY))
L.append(label_layer([("CUMS", 135, 71), ("CUMS+IMI", 348, 71), ("CUMS+ALK", 641, 71)], KX, KY, 17.3))
row_y = [219 + 54.37 * i for i in range(25)]
L.append(rects([(54, 107, y - 25, y + 25, KEYCOL[k[2]]) for y, k in zip(row_y, F_KEY_1)], KX, KY))
L.append(rects([(638, 690, y - 25, y + 25, KEYCOL[k[1]]) for y, k in zip(row_y, F_KEY_2)], KX, KY))
FONT_KEY = 17.2


def prefix_w(p):
    return sum(LETTER_W[ch] for ch in p) / 1000 * FONT_KEY * 1568 / 692


L.append(label_layer([(k[0], 132, y) for y, k in zip(row_y, F_KEY_1)], KX, KY, FONT_KEY, fontStyle="italic"))
L.append(label_layer([(k[1], 132 + prefix_w(k[0]), y) for y, k in zip(row_y, F_KEY_1)], KX, KY, FONT_KEY))
L.append(label_layer([("z: g__", 710, row_y[0])], KX, KY, FONT_KEY, fontStyle="italic"))
L.append(label_layer([("Paraeggerthella", 710 + prefix_w("z: g__"), row_y[0])], KX, KY, FONT_KEY))
L.append(label_layer([(k[0], 710, y) for y, k in zip(row_y[1:], F_KEY_2[1:])], KX, KY, FONT_KEY, fontStyle="italic"))

chart = alt.layer(*L).resolve_scale(
    x="independent", y="independent", color="independent", fill="independent", stroke="independent",
    size="independent", shape="independent", theta="independent", radius="independent", angle="independent",
).properties(width=W, height=H, padding=0, background="white",
             autosize=alt.AutoSizeParams(type="none")).configure_view(stroke=None)
chart.save("out.html", embed_options={"renderer": "svg", "actions": False})
